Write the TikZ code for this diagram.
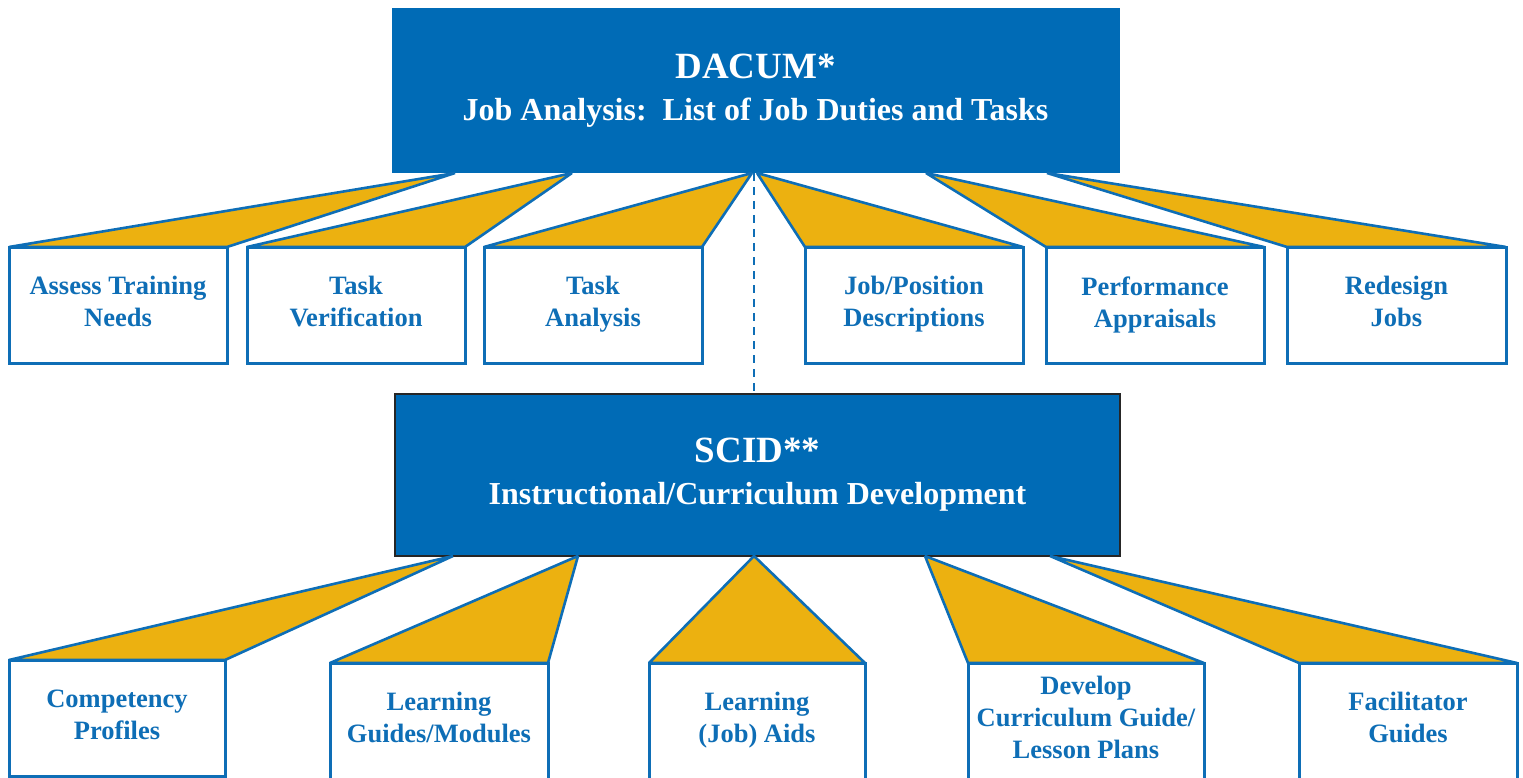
\documentclass[tikz,border=0pt]{standalone}
\usepackage{fontspec}
\setmainfont{Liberation Serif}
\usepackage{tikz}
\definecolor{dacumblue}{RGB}{0,107,182}
\definecolor{fangold}{RGB}{236,177,16}
\definecolor{edgeblue}{RGB}{14,110,182}
\def\leafstrut{\rule[-6.5pt]{0pt}{40pt}}
\tikzset{
	headbox/.style={rectangle, fill=dacumblue, draw=dacumblue, line width=1pt, anchor=north west, outer sep=0pt, inner sep=0pt, text=white, align=center, font=\bfseries\fontsize{32}{42}\selectfont},
	leafbox/.style={rectangle, fill=white, draw=edgeblue, line width=3pt, anchor=north west, outer sep=0pt, inner sep=0pt, minimum height=116pt, text=edgeblue, align=center, font=\bfseries\fontsize{26.5}{32}\selectfont, execute at begin node=\leafstrut, execute at end node=\leafstrut},
	fanline/.style={draw=edgeblue, fill=fangold, line width=2.6pt, line join=bevel}
}
\def\fan(#1)(#2){\draw[fanline] (#1) -- (#2.north west) -- (#2.north east) -- cycle;}

\begin{document}
\begin{tikzpicture}[x=1pt, y=-1pt]
		%%%%% START %%%%%
		\useasboundingbox (0, 0) rectangle (1523, 778);
		
		% job analysis
		\node[headbox, minimum width=727pt, minimum height=164pt] (dacum) at (392, 9) {{\fontsize{37}{42}\selectfont DACUM*}\\Job Analysis:\ \ List of Job Duties and Tasks};
		
		\node[leafbox, minimum width=218pt] (needs) at (9, 247) {Assess Training\\Needs};
		\node[leafbox, minimum width=218pt] (verify) at (247, 247) {Task\\Verification};
		\node[leafbox, minimum width=218pt] (analysis) at (484, 247) {Task\\Analysis};
		\node[leafbox, minimum width=218pt] (descr) at (805, 247) {Job/Position\\Descriptions};
		\node[leafbox, minimum width=218pt] (apprais) at (1046, 247) {Performance\\Appraisals};
		\node[leafbox, minimum width=219pt] (redesign) at (1287, 247) {Redesign\\Jobs};
		
		\coordinate (d1) at (455, 173);
		\coordinate (d2) at (572, 173);
		\coordinate (d3) at (752, 173);
		\coordinate (d4) at (757, 173);
		\coordinate (d5) at (926, 173);
		\coordinate (d6) at (1047, 173);
		
		\fan(d1)(needs)
		\fan(d2)(verify)
		\fan(d3)(analysis)
		\fan(d4)(descr)
		\fan(d5)(apprais)
		\fan(d6)(redesign)
		
		% curriculum development
		\node[headbox, draw=black!85, line width=2.5pt, minimum width=725pt, minimum height=162pt] (scid) at (395, 394) {{\fontsize{37}{42}\selectfont SCID**}\\Instructional/Curriculum Development};
		
		\draw[edgeblue, line width=2.2pt, dash pattern=on 8pt off 6pt] (d3) ++(2, 0) coordinate (dd) -- (dd |- scid.north);
		
		\node[leafbox, minimum width=216pt] (profiles) at (9, 660) {Competency\\Profiles};
		\node[leafbox, minimum width=218pt] (modules) at (330, 663) {Learning\\Guides/Modules};
		\node[leafbox, minimum width=216pt] (aids) at (649, 663) {Learning\\(Job) Aids};
		\node[leafbox, minimum width=236pt] (plans) at (968, 663) {Develop\\Curriculum Guide/\\Lesson Plans};
		\node[leafbox, minimum width=218pt] (facil) at (1299, 663) {Facilitator\\Guides};
		
		\coordinate (s1) at (453, 556);
		\coordinate (s2) at (578, 556);
		\coordinate (s3) at (754, 556);
		\coordinate (s4) at (925, 556);
		\coordinate (s5) at (1050, 556);
		
		\fan(s1)(profiles)
		\fan(s2)(modules)
		\fan(s3)(aids)
		\fan(s4)(plans)
		\fan(s5)(facil)
		%%%%% END %%%%%
	\end{tikzpicture}
\end{document}
